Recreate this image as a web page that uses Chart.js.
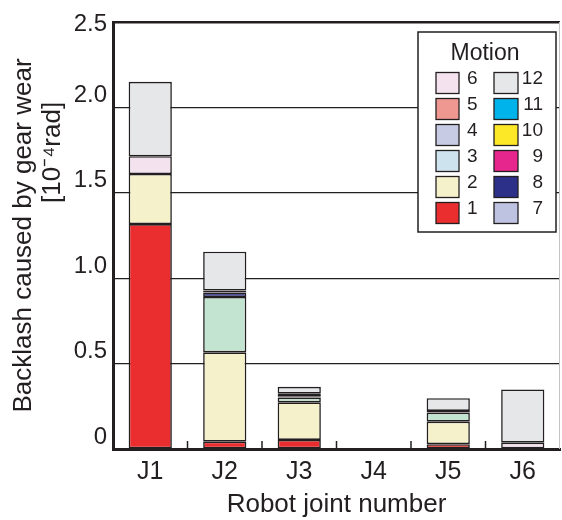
<!DOCTYPE html>
<html>
<head>
<meta charset="utf-8">
<script src="https://cdn.jsdelivr.net/npm/chart.js"></script>
<style>
    html, body { margin: 0; padding: 0; background: #fff; }
</style>
</head>
<body>
<canvas id="wearChart" width="562" height="520"></canvas>
<script>
const joints = ["J1", "J2", "J3", "J4", "J5", "J6"];
const yTickLabels = ["0", "0.5", "1.0", "1.5", "2.0", "2.5"];

// backlash per motion, units of 1e-4 rad (null = no share)
const motion1 = [1.317, 0.043, 0.053, null, 0.028, null];
const motion2 = [0.293, 0.523, 0.220, null, 0.132, null];
const motion3 = [null, 0.324, 0.028, null, 0.053, null];
const motion4 = [null, null, 0.008, null, null, null];
const motion5 = [null, null, 0.015, null, null, null];
const motion6 = [0.104, null, null, null, null, 0.037];
const motion7 = [null, null, null, null, null, null];
const motion8 = [null, 0.026, null, null, 0.010, null];
const motion9 = [null, null, null, null, null, null];
const motion10 = [null, null, null, null, null, null];
const motion11 = [null, 0.012, null, null, null, null];
const motion12 = [0.436, 0.227, 0.040, null, 0.074, 0.312];

const motionSeries = [motion1, motion2, motion3, motion4, motion5, motion6,
    motion7, motion8, motion9, motion10, motion11, motion12];
const motionNames = ["1", "2", "3", "4", "5", "6", "7", "8", "9", "10", "11", "12"];

const barColors = ["#ea2e2f", "#f5f1cb", "#c4e4d2", "#c7cbe4", "#ef9791", "#f4e3ee",
    "#bdc3e0", "#2c3089", "#e6268c", "#fde828", "#00b3eb", "#e6e7e9"];
const legendColors = ["#ea2e2f", "#f5f1cb", "#cde4ef", "#c7cbe4", "#ef9791", "#f4e3ee",
    "#bdc3e0", "#2c3089", "#e6268c", "#fde828", "#00b3eb", "#e6e7e9"];

const ink = "#231f20";
const family = '"Liberation Sans", Arial, sans-serif';

// small upward ticks between joints + faint right frame
const frameTicks = {
    id: "frameTicks",
    afterDraw(chart) {
        const ctx = chart.ctx;
        const x = chart.scales.x;
        const area = chart.chartArea;
        ctx.save();
        ctx.strokeStyle = ink;
        ctx.lineWidth = 1.5;
        for (let i = 0; i < joints.length - 1; i++) {
            const bx = (x.getPixelForValue(i) + x.getPixelForValue(i + 1)) / 2;
            ctx.beginPath();
            ctx.moveTo(bx, area.bottom);
            ctx.lineTo(bx, area.bottom - 8);
            ctx.stroke();
        }
        ctx.strokeStyle = "#c4c4c4";
        ctx.lineWidth = 1;
        ctx.beginPath();
        ctx.moveTo(area.right - 0.5, area.top);
        ctx.lineTo(area.right - 0.5, area.bottom);
        ctx.stroke();
        ctx.restore();
    }
};

// two-column legend: 6..1 on the left, 12..7 on the right
const motionLegend = {
    id: "motionLegend",
    afterDraw(chart) {
        const ctx = chart.ctx;
        const leftColumn = [5, 4, 3, 2, 1, 0];
        const rightColumn = [11, 10, 9, 8, 7, 6];
        ctx.save();
        ctx.fillStyle = "#fff";
        ctx.strokeStyle = ink;
        ctx.lineWidth = 1.5;
        ctx.fillRect(418, 32, 138, 200);
        ctx.strokeRect(418, 32, 138, 200);

        ctx.fillStyle = ink;
        ctx.textBaseline = "middle";
        ctx.textAlign = "center";
        ctx.font = "23px " + family;
        ctx.fillText("Motion", 485, 54);

        ctx.font = "19px " + family;
        ctx.lineWidth = 1.3;
        for (let row = 0; row < 6; row++) {
            const top = 72.5 + row * 26;
            const l = leftColumn[row];
            const r = rightColumn[row];

            ctx.fillStyle = legendColors[l];
            ctx.fillRect(436, top, 23, 21);
            ctx.strokeRect(436, top, 23, 21);
            ctx.fillStyle = legendColors[r];
            ctx.fillRect(494, top, 24, 21);
            ctx.strokeRect(494, top, 24, 21);

            ctx.fillStyle = ink;
            ctx.textAlign = "left";
            ctx.fillText(motionNames[l], 467, top + 6.5);
            ctx.textAlign = "right";
            ctx.fillText(motionNames[r], 543, top + 6.5);
        }
        ctx.restore();
    }
};

new Chart("wearChart", {
    type: "bar",
    data: {
        labels: joints,
        datasets: motionSeries.map((values, i) => ({
            label: motionNames[i],
            data: values,
            backgroundColor: barColors[i],
            borderColor: ink,
            borderWidth: 1.6,
            borderSkipped: false,
            barPercentage: 0.58,
            categoryPercentage: 1
        }))
    },
    options: {
        responsive: false,
        animation: false,
        layout: {
            padding: { top: 22, right: 2, left: 0, bottom: 0 }
        },
        plugins: {
            legend: { display: false },
            tooltip: { enabled: false }
        },
        scales: {
            x: {
                stacked: true,
                z: 1,
                afterFit: function(scale) {
                    scale.height = 71;
                },
                grid: { display: false },
                border: { display: true, color: ink, width: 3 },
                ticks: {
                    color: ink,
                    padding: 0,
                    font: { family: family, size: 25 }
                },
                title: {
                    display: true,
                    text: "Robot joint number",
                    color: ink,
                    padding: 0,
                    font: { family: family, size: 26 }
                }
            },
            y: {
                stacked: true,
                min: 0,
                max: 2.5,
                afterFit: function(scale) {
                    scale.width = 113;
                    scale.paddingTop = 0;
                    scale.paddingBottom = 0;
                },
                grid: {
                    color: ink,
                    drawTicks: false,
                    lineWidth: function(context) {
                        return context.tick && context.tick.value === 2.5 ? 2.5 : 1.3;
                    }
                },
                border: { display: true, color: ink, width: 3 },
                ticks: {
                    stepSize: 0.5,
                    color: ink,
                    padding: 6,
                    labelOffset: -12,
                    font: { family: family, size: 24 },
                    callback: function(value, index) {
                        // top label sits level with its line, the rest float above theirs
                        return index === yTickLabels.length - 1 ? ["", yTickLabels[index]] : yTickLabels[index];
                    }
                },
                title: {
                    display: true,
                    text: ["Backlash caused by gear wear", " ".repeat(23) + "[10\u207B\u2074rad]"],
                    color: ink,
                    padding: { top: 9, bottom: 0 },
                    font: { family: family, size: 26, lineHeight: 1.12 }
                }
            }
        }
    },
    plugins: [frameTicks, motionLegend]
});
</script>
</body>
</html>
